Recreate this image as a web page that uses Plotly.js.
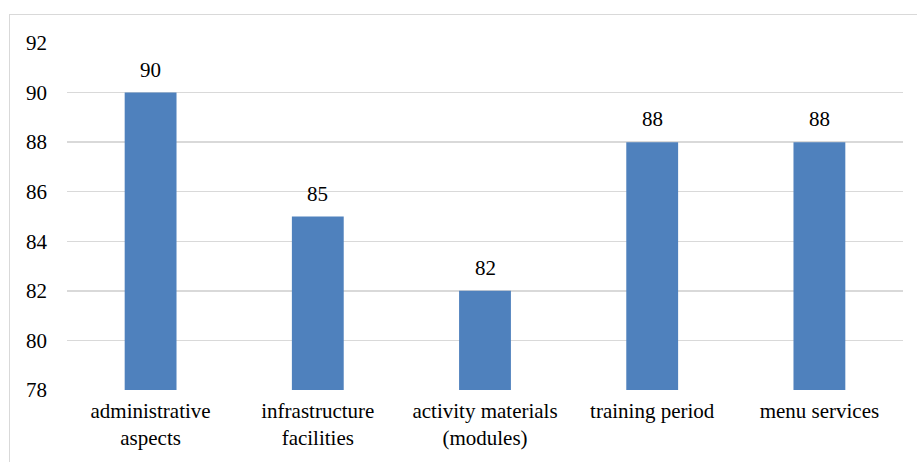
<!DOCTYPE html>
<html>
<head>
<meta charset="utf-8">
<script src="https://cdn.plot.ly/plotly-3.0.1.min.js"></script>
<style>
html,body{margin:0;padding:0;background:#fff;}
#wrap{position:relative;width:917px;height:462px;overflow:hidden;}
#frame{position:absolute;left:9px;top:14px;width:950px;height:500px;border:1.5px solid #d9d9d9;box-sizing:border-box;}
#chart{position:absolute;left:0;top:0;width:917px;height:462px;}
</style>
</head>
<body>
<div id="wrap">
<div id="frame"></div>
<div id="chart"></div>
</div>
<script>
const categories = ["administrative<br>aspects", "infrastructure<br>facilities", "activity materials<br>(modules)", "training period", "menu services"];
const values = [90, 85, 82, 88, 88];
const yTicks = [78, 80, 82, 84, 86, 88, 90, 92];

const fam = "Liberation Serif";
const font = {family: fam, size: 21, color: "#000"};

Plotly.newPlot("chart", [{
  type: "bar",
  x: categories,
  y: values,
  marker: {color: "#4F81BD"},
  cliponaxis: true,
  hoverinfo: "none"
}], {
  width: 917, height: 462,
  margin: {l: 67, r: 14, t: 43, b: 72},
  paper_bgcolor: "rgba(0,0,0,0)",
  plot_bgcolor: "rgba(0,0,0,0)",
  bargap: 0.69,
  font: font,
  showlegend: false,
  annotations: categories.map((c, i) => ({
    x: c, y: values[i], xref: "x", yref: "y",
    text: String(values[i]), showarrow: false,
    yanchor: "bottom", yshift: 9,
    font: {family: fam, size: 21, color: "#000"}
  })),
  xaxis: {
    tickfont: font,
    showgrid: false,
    showline: false,
    zeroline: false,
    ticks: "",
    ticklabelstandoff: 6
  },
  yaxis: {
    range: [78, 92],
    tickvals: yTicks,
    ticktext: yTicks.map(String),
    tickfont: font,
    showgrid: true,
    gridcolor: "#d9d9d9",
    gridwidth: 1.5,
    zeroline: false,
    showline: false,
    ticks: "",
    ticklabelstandoff: 19
  }
}, {staticPlot: true});
</script>
</body>
</html>
